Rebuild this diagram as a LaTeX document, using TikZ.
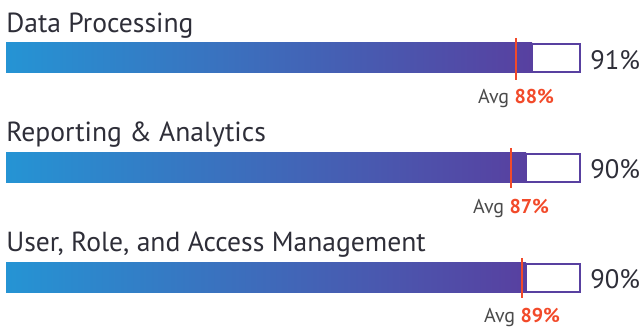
\documentclass[tikz,border=0pt]{standalone}
\usepackage{fontspec}
\setmainfont{PT Sans}
\usetikzlibrary{positioning}

\definecolor{barblue}{HTML}{2594D4}
\definecolor{barpurple}{HTML}{5840A0}
\definecolor{avgred}{HTML}{F24A2A}
\definecolor{labelgray}{HTML}{2E2E38}
\definecolor{avggray}{HTML}{4A4A4A}

\tikzset{
  catlabel/.style={anchor=base west, inner sep=0pt, text=labelgray,
    font=\fontsize{20.7}{23}\selectfont},
  valuelabel/.style={anchor=base west, inner sep=0pt, text=labelgray,
    font=\fontsize{20}{23}\selectfont},
  avglabel/.style={anchor=base, inner sep=0pt, text=avggray,
    font=\fontsize{15}{17}\selectfont},
  barfill/.style={left color=barblue, right color=barpurple},
  barrest/.style={fill=white, draw=barpurple, line width=1.5pt},
  avgmark/.style={draw=avgred, line width=1.4pt}
}

\begin{document}
\begin{tikzpicture}[x=0.75pt, y=-0.75pt]
  \useasboundingbox (0,0) rectangle (644,327);

  % Data Processing
  \node[catlabel] (lab1) at (6,33) {Data Processing};
  \shade[barfill] (6,43) rectangle (532,73);
  \draw[barrest] (532,44) rectangle (580,72);
  \coordinate (avg1top) at (516,38);
  \coordinate (avg1bot) at (516,80);
  \draw[avgmark] (avg1top) -- (avg1bot);
  \node[valuelabel] (val1) at (590,70) {91\%};
  \node[avglabel] (avg1) at (516,104) {Avg \textcolor{avgred}{\bfseries 88\%}};

  % Reporting & Analytics
  \node[catlabel] (lab2) at (6,142) {Reporting \& Analytics};
  \shade[barfill] (6,153) rectangle (526,183);
  \draw[barrest] (526,154) rectangle (580,182);
  \coordinate (avg2top) at (511,148);
  \coordinate (avg2bot) at (511,188);
  \draw[avgmark] (avg2top) -- (avg2bot);
  \node[valuelabel] (val2) at (590,179) {90\%};
  \node[avglabel] (avg2) at (511,214) {Avg \textcolor{avgred}{\bfseries 87\%}};

  % User, Role, and Access Management
  \node[catlabel] (lab3) at (6,252) {User, Role, and Access Management};
  \shade[barfill] (6,263) rectangle (526,293);
  \draw[barrest] (526,264) rectangle (580,292);
  \coordinate (avg3top) at (522,258);
  \coordinate (avg3bot) at (522,298);
  \draw[avgmark] (avg3top) -- (avg3bot);
  \node[valuelabel] (val3) at (590,289) {90\%};
  \node[avglabel] (avg3) at (522,323) {Avg \textcolor{avgred}{\bfseries 89\%}};
\end{tikzpicture}
\end{document}
